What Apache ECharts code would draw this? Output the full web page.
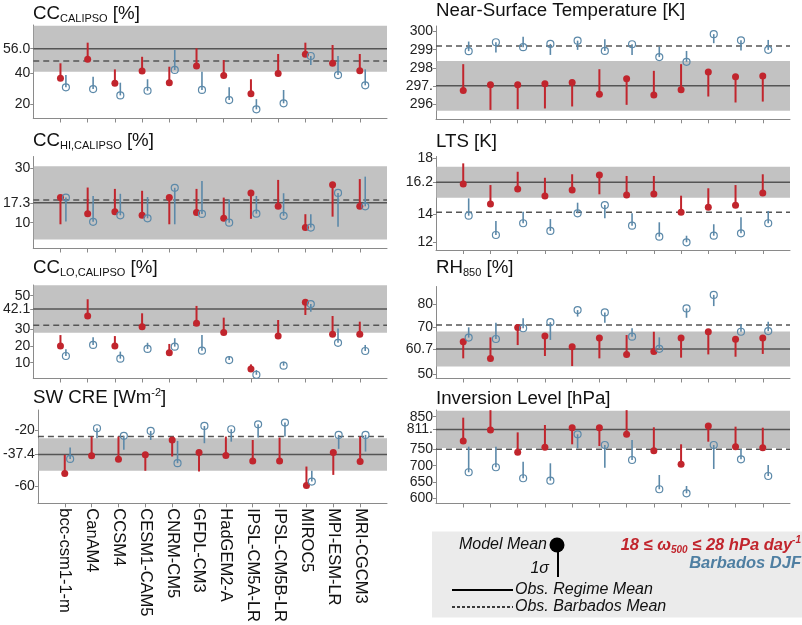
<!DOCTYPE html>
<html>
<head>
<meta charset="utf-8">
<script src="https://cdn.jsdelivr.net/npm/echarts@6/dist/echarts.min.js"></script>
<style>html,body{margin:0;padding:0;background:#fff}#c{width:802px;height:625px}</style>
</head>
<body>
<div id="c"></div>
<script>
// ---------- DATA ----------
const models = ['bcc-csm1-1-m','CanAM4','CCSM4','CESM1-CAM5','CNRM-CM5','GFDL-CM3','HadGEM2-A','IPSL-CM5A-LR','IPSL-CM5B-LR','MIROC5','MPI-ESM-LR','MRI-CGCM3'];

const ccRegime        = [36.9,49.2,33.7,41.6,34.1,44.8,38.8,27.0,40.1,52.4,46.6,41.8];
const ccRegimeEnd     = [46.6,59.9,42.7,50.8,44.4,56.3,48.7,36.3,52.6,59.9,58.4,52.6];
const ccBarbados      = [31.1,30.0,25.9,28.9,42.3,29.4,22.9,16.9,20.8,51.3,39.0,32.4];
const ccBarbadosEnd   = [39.0,37.9,34.1,36.3,55.2,41.2,31.1,23.5,29.4,45.5,51.3,42.7];

const hiRegime        = [19.2,13.3,14.0,12.7,19.2,13.7,11.6,20.9,16.0,8.2,23.9,16.0];
const hiRegimeEnd     = [9.4,22.9,22.4,21.7,9.4,22.4,19.2,11.4,25.7,13.1,12.2,26.0];
const hiBarbados      = [19.2,10.3,12.7,11.6,22.8,13.2,10.0,13.3,12.5,8.2,20.9,16.0];
const hiBarbadosEnd   = [10.4,19.8,20.6,19.4,9.4,25.3,18.5,19.8,20.8,13.1,8.5,26.9];

const loRegime        = [20.0,37.9,20.0,31.5,16.0,33.5,28.1,6.2,25.9,46.1,27.0,27.0];
const loRegimeEnd     = [26.5,47.9,25.9,39.5,21.2,43.9,36.9,9.0,35.5,38.5,37.9,34.5];
const loBarbados      = [14.0,20.6,12.4,18.2,19.6,17.2,11.6,2.8,8.2,45.0,21.9,17.0];
const loBarbadosEnd   = [18.0,25.2,16.6,21.9,24.6,26.5,14.0,5.6,10.6,40.4,30.5,20.6];

const swRegime        = [-50.8,-38.3,-40.7,-37.6,-27.1,-36.0,-38.1,-41.9,-41.9,-59.3,-36.0,-42.4];
const swRegimeEnd     = [-37.6,-24.7,-24.7,-48.9,-38.8,-49.4,-24.7,-27.1,-25.4,-45.9,-51.8,-24.7];
const swBarbados      = [-40.5,-18.8,-24.2,-20.7,-43.5,-17.2,-19.5,-16.0,-14.8,-56.5,-23.5,-23.5];
const swBarbadosEnd   = [-32.5,-25.9,-34.1,-27.1,-27.8,-29.4,-28.3,-25.4,-24.7,-48.9,-33.4,-35.3];

const tsRegime        = [296.74,297.06,297.06,297.11,297.18,296.54,297.39,296.49,296.78,297.77,297.51,297.55];
const tsRegimeEnd     = [298.20,295.67,295.71,295.75,295.86,297.92,295.95,297.83,298.20,296.41,296.08,296.13];
const tsBarbados      = [298.92,299.41,299.14,299.32,299.50,298.93,299.30,298.59,298.33,299.86,299.52,298.99];
const tsBarbadosEnd   = [299.45,298.84,299.72,298.71,298.99,299.58,298.71,299.17,298.93,299.36,298.95,299.54];

const ltsRegime       = [16.16,14.74,15.81,15.31,15.74,16.81,15.38,15.45,14.14,14.50,14.64,15.52];
const ltsRegimeEnd    = [17.64,16.09,17.04,16.61,16.86,15.43,16.74,16.74,15.33,15.86,16.09,16.86];
const ltsBarbados     = [13.90,12.52,13.36,12.81,14.07,14.66,13.19,12.40,12.00,12.47,12.64,13.36];
const ltsBarbadosEnd  = [15.14,13.52,14.19,13.66,14.83,13.71,14.07,13.43,12.47,13.29,13.79,14.24];

const rhRegime        = [63.8,56.6,69.9,66.3,61.7,65.4,58.4,59.6,65.4,68.1,64.9,65.4];
const rhRegimeEnd     = [56.7,65.7,62.4,57.7,53.4,56.7,66.7,68.1,57.0,58.4,57.4,58.6];
const rhBarbados      = [65.6,65.0,69.6,72.2,77.4,76.4,66.0,60.8,78.1,83.9,68.1,68.4];
const rhBarbadosEnd   = [70.0,72.0,73.9,64.6,74.6,72.0,69.6,65.7,74.1,79.1,71.4,72.4];

const invRegime       = [775.6,809.3,741.0,756.0,816.3,816.3,796.0,745.8,704.2,821.5,758.1,755.0];
const invRegimeEnd    = [847.0,870.0,802.0,824.6,765.4,760.2,870.0,817.5,765.4,773.4,819.4,816.3];
const invBarbados     = [679.7,695.0,661.3,654.0,796.0,763.3,717.3,627.6,615.3,763.3,719.5,668.3];
const invBarbadosEnd  = [758.1,758.1,712.0,707.2,753.0,693.8,778.6,671.4,637.7,689.8,751.0,702.0];

// observations per panel (CC, CC_HI, CC_LO, SW CRE, Ts, LTS, RH850, Inversion)
const obsRegimeMean   = [56.0, 17.3, 42.1, -37.4, 297.0, 16.29, 60.7, 811];
const obsRegimeSpread = [14.8, 13.45, 14.2, 11.5, 1.38, 1.1, 7.5, 57];
const obsBarbadosMean = [48.1, 18.3, 32.3, -24.7, 299.21, 14.14, 71.0, 750];

const yTicks = [
  [20, 40, 56.0], [10, 17.3, 30], [10, 20, 30, 42.1, 50], [-60, -37.4, -20],
  [296, 297, 298, 299, 300], [12, 14, 16.29, 18], [50, 60.7, 70, 80], [600, 650, 700, 750, 811, 850]
];
const yTickLabels = [
  ['20','40','56.0'], ['10','17.3','30'], ['10','20','30','42.1','50'], ['-60','-37.4','-20'],
  ['296','297.','298','299','300'], ['12','14','16.2','18'], ['50','60.7','70','80'], ['600','650','700','750','811.','850']
];

// ---------- LAYOUT / STYLE ----------
const RED = '#c1252d', BLUE = '#5c89a9', AXIS = '#8a8a8a', BAND = '#c2c2c2', OBS = '#555555';
const FONT = '"Liberation Sans", Arial, Helvetica, sans-serif';
const TS = 18.7;

const panels = [
  {reg: ccRegime, regEnd: ccRegimeEnd, bar: ccBarbados, barEnd: ccBarbadosEnd, left: 33, top: 25, bottom: 118.5, min: 11.0, max: 71.3,
   title: [['CC',TS,0],['CALIPSO',11,5],[' [%]',TS,0]], titleY: 13.5},
  {reg: hiRegime, regEnd: hiRegimeEnd, bar: hiBarbados, barEnd: hiBarbadosEnd, left: 33, top: 156.5, bottom: 248.5, min: 0.5, max: 34.3,
   title: [['CC',TS,0],['HI,CALIPSO',11,5],[' [%]',TS,0]], titleY: 140.5},
  {reg: loRegime, regEnd: loRegimeEnd, bar: loBarbados, barEnd: loBarbadosEnd, left: 33, top: 285, bottom: 378.5, min: 0.57, max: 56.4,
   title: [['CC',TS,0],['LO,CALIPSO',11,5],[' [%]',TS,0]], titleY: 268},
  {reg: swRegime, regEnd: swRegimeEnd, bar: swBarbados, barEnd: swBarbadosEnd, left: 33, top: 410, bottom: 503.5, min: -71.9, max: -5.9,
   title: [['SW CRE [Wm',TS,0],['-2',11,-5],[']',TS,0]], titleY: 398.3, xLabels: true},
  {reg: tsRegime, regEnd: tsRegimeEnd, bar: tsBarbados, barEnd: tsBarbadosEnd, left: 436, top: 26, bottom: 119.3, min: 295.15, max: 300.31,
   title: [['Near-Surface Temperature [K]',TS,0]], titleY: 11},
  {reg: ltsRegime, regEnd: ltsRegimeEnd, bar: ltsBarbados, barEnd: ltsBarbadosEnd, left: 436, top: 156.5, bottom: 250, min: 11.45, max: 18.13,
   title: [['LTS [K]',TS,0]], titleY: 141.7},
  {reg: rhRegime, regEnd: rhRegimeEnd, bar: rhBarbados, barEnd: rhBarbadosEnd, left: 436, top: 286.5, bottom: 378.5, min: 48.07, max: 87.5,
   title: [['RH',TS,0],['850',11,5],[' [%]',TS,0]], titleY: 267.5},
  {reg: invRegime, regEnd: invRegimeEnd, bar: invBarbados, barEnd: invBarbadosEnd, left: 436, top: 410, bottom: 503.5, min: 584, max: 870.5,
   title: [['Inversion Level [hPa]',TS,0]], titleY: 398.7}
];

const measureCtx = document.createElement('canvas').getContext('2d');
function textRun(x, cy, parts, fontStyle, fill, alignRight) {
  const widths = parts.map(p => { measureCtx.font = `${fontStyle} ${p[1]}px ${FONT}`; return measureCtx.measureText(p[0]).width; });
  const total = widths.reduce((a, b) => a + b, 0);
  let cx = alignRight ? x - total : x;
  const els = [];
  parts.forEach((p, i) => {
    els.push({type: 'text', x: cx, y: cy + p[2], z: 100,
      style: {text: p[0], font: `${fontStyle} ${p[1]}px ${FONT}`, fill: fill,
              verticalAlign: 'middle', textVerticalAlign: 'middle', align: 'left', textAlign: 'left'}});
    cx += widths[i];
  });
  return els;
}

const ticksX = models.map((m, i) => i + 1);
const grid = [], xAxis = [], yAxis = [], series = [], graphic = [];

function yAxisDef(k, p, values, labels, showLine) {
  return {
    type: 'value', gridIndex: k, min: p.min, max: p.max, position: 'left',
    axisLine: {show: showLine, lineStyle: {color: AXIS, width: 1}},
    axisTick: {show: true, customValues: values, length: 3, lineStyle: {color: AXIS}},
    axisLabel: {show: true, customValues: values, fontSize: 14, color: '#222', fontFamily: FONT, margin: 3, hideOverlap: false,
                showMinLabel: true, showMaxLabel: true,
                formatter: v => { const i = values.findIndex(t => Math.abs(t - v) < 1e-9); return i >= 0 ? labels[i] : ''; }},
    splitLine: {show: false}
  };
}

panels.forEach((p, k) => {
  grid.push({left: p.left, width: 354, top: p.top, height: p.bottom - p.top, containLabel: false});
  xAxis.push({
    type: 'value', gridIndex: k, min: 0, max: 13,
    axisLine: {show: true, lineStyle: {color: AXIS, width: 1}},
    axisTick: {show: true, customValues: ticksX, length: 4, lineStyle: {color: AXIS}},
    axisLabel: {show: !!p.xLabels, customValues: ticksX, rotate: -90, fontSize: 16.5, color: '#111', fontFamily: FONT, margin: 5,
                hideOverlap: false, formatter: v => models[Math.round(v) - 1] || ''},
    splitLine: {show: false}
  });
  const tv = yTicks[k], tl = yTickLabels[k];
  const mi = tv.findIndex(t => Math.abs(t - obsRegimeMean[k]) < 1e-9);
  const restV = tv.filter((t, i) => i !== mi), restL = tl.filter((t, i) => i !== mi);
  const yMain = yAxis.length;
  yAxis.push(yAxisDef(k, p, restV, restL, true));
  yAxis.push(yAxisDef(k, p, [tv[mi]], [tl[mi]], false));
  // obs band + lines
  series.push({
    type: 'custom', xAxisIndex: k, yAxisIndex: yMain, silent: true, z: 1,
    encode: {x: 0, y: 1},
    data: [[6.5, obsRegimeMean[k], obsRegimeSpread[k], obsBarbadosMean[k]]],
    renderItem: (params, api) => {
      const cs = params.coordSys;
      const mean = api.value(1), spread = api.value(2), barb = api.value(3);
      const yHi = api.coord([0, mean + spread])[1], yLo = api.coord([0, mean - spread])[1];
      const top = Math.max(cs.y, yHi), bot = Math.min(cs.y + cs.height, yLo);
      const ym = api.coord([0, mean])[1], yb = api.coord([0, barb])[1];
      return {type: 'group', children: [
        {type: 'rect', shape: {x: cs.x + 0.5, y: top, width: cs.width - 0.5, height: bot - top}, style: {fill: BAND}},
        {type: 'line', shape: {x1: cs.x, y1: ym, x2: cs.x + cs.width, y2: ym}, style: {stroke: OBS, lineWidth: 1.5}},
        {type: 'line', shape: {x1: cs.x, y1: yb, x2: cs.x + cs.width, y2: yb}, style: {stroke: OBS, lineWidth: 1.5, lineDash: [6, 4]}}
      ]};
    }
  });
  const stick = (vals, ends, off, color, lw) => ({
    type: 'custom', xAxisIndex: k, yAxisIndex: yMain, silent: true, z: 3,
    encode: {x: 0, y: [1, 2]},
    data: vals.map((v, i) => [i + 1 + off, v, ends[i]]),
    renderItem: (params, api) => {
      const a = api.coord([api.value(0), api.value(1)]), b = api.coord([api.value(0), api.value(2)]);
      return {type: 'line', shape: {x1: a[0], y1: a[1], x2: b[0], y2: b[1]}, style: {stroke: color, lineWidth: lw}};
    }
  });
  series.push(stick(p.reg, p.regEnd, 0, RED, 2));
  series.push(stick(p.bar, p.barEnd, 0.2, BLUE, 1.6));
  series.push({type: 'scatter', xAxisIndex: k, yAxisIndex: yMain, silent: true, z: 4,
    symbol: 'circle', symbolSize: 7, itemStyle: {color: RED, opacity: 1},
    data: p.reg.map((v, i) => [i + 1, v])});
  series.push({type: 'scatter', xAxisIndex: k, yAxisIndex: yMain, silent: true, z: 4,
    symbol: 'circle', symbolSize: 7, itemStyle: {color: 'rgba(0,0,0,0)', borderColor: BLUE, borderWidth: 1.2, opacity: 1},
    data: p.bar.map((v, i) => [i + 1.2, v])});
  graphic.push(...textRun(p.left, p.titleY, p.title, '', '#111', false));
});

// ---------- LEGEND (annotation) ----------
graphic.push({type: 'rect', shape: {x: 432, y: 531.5, width: 370, height: 86}, style: {fill: '#ebebeb'}, z: 90});
graphic.push(...textRun(547, 545, [['Model Mean',16,0]], 'italic', '#111', true));
graphic.push({type: 'line', shape: {x1: 558, y1: 545, x2: 558, y2: 577}, style: {stroke: '#000', lineWidth: 2}, z: 100});
graphic.push({type: 'circle', shape: {cx: 557, cy: 545, r: 7.5}, style: {fill: '#000'}, z: 101});
graphic.push(...textRun(549, 569, [['1σ',16,0]], 'italic', '#111', true));
graphic.push(...textRun(801, 545, [['18 ≤ ω',16.5,0],['500',10,5],[' ≤ 28 hPa day',16.5,0],['-1',10,-5]], 'italic bold', RED, true));
graphic.push(...textRun(801, 563, [['Barbados DJF',16.5,0]], 'italic bold', '#4f7fa2', true));
graphic.push({type: 'line', shape: {x1: 452, y1: 590, x2: 513, y2: 590}, style: {stroke: '#000', lineWidth: 2}, z: 100});
graphic.push(...textRun(515, 590, [['Obs. Regime Mean',16,0]], 'italic', '#111', false));
graphic.push({type: 'line', shape: {x1: 452, y1: 607, x2: 513, y2: 607}, style: {stroke: '#000', lineWidth: 1.5, lineDash: [3, 2]}, z: 100});
graphic.push(...textRun(515, 607, [['Obs. Barbados Mean',16,0]], 'italic', '#111', false));

const chart = echarts.init(document.getElementById('c'), null, {renderer: 'canvas'});
chart.setOption({animation: false, backgroundColor: '#fff', grid, xAxis, yAxis, series, graphic});
</script>
</body>
</html>
